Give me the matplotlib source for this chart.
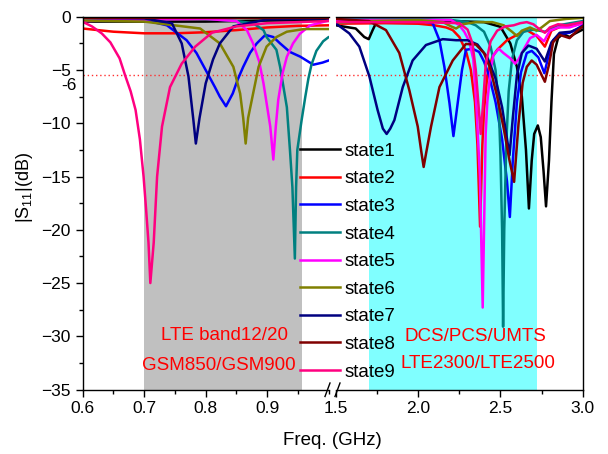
import matplotlib
matplotlib.use('Agg')
import matplotlib.pyplot as plt
from matplotlib.lines import Line2D
from matplotlib.ticker import MultipleLocator
import matplotlib.transforms as mtransforms

plt.rcParams['font.family'] = ['Liberation Sans', 'DejaVu Sans']
plt.rcParams['mathtext.fontset'] = 'custom'
plt.rcParams['mathtext.rm'] = 'Liberation Sans'
plt.rcParams['mathtext.it'] = 'Liberation Sans:italic'

# frequency (GHz) / |S11| (dB), both bands in one list
state1_f = [0.6, 0.7, 0.8, 0.9, 1.0,
            1.5, 1.62, 1.672, 1.699, 1.723, 1.743, 1.8, 2.0, 2.2, 2.4, 2.5, 2.56, 2.6, 2.63, 2.655,
            2.673, 2.69, 2.705, 2.727, 2.745, 2.762, 2.777, 2.795, 2.81, 2.825, 2.85, 2.88, 2.92, 2.95, 3.0]
state1_db = [-0.45, -0.45, -0.45, -0.35, -0.3,
             -0.8, -1.1, -1.9, -2.1, -1.25, -0.6, -0.4, -0.35, -0.4, -0.5, -0.94, -2.5, -4.7, -7.5, -12.5,
             -18.0, -13.5, -11.0, -10.2, -11.3, -14.5, -17.8, -13.5, -8.0, -3.5, -2.0, -1.6, -1.9, -1.6, -1.2]

state2_f = [0.6, 0.65, 0.7, 0.75, 0.8, 0.85, 0.9, 0.95, 1.0,
            1.5, 1.8, 2.0, 2.1, 2.17, 2.21, 2.25, 2.29, 2.32, 2.345, 2.36, 2.376, 2.39, 2.40,
            2.42, 2.45, 2.48, 2.54, 2.6, 2.66, 2.72, 2.77, 2.81, 2.87, 2.95, 3.0]
state2_db = [-1.1, -1.4, -1.55, -1.55, -1.45, -1.25, -1.0, -0.85, -0.8,
             -0.65, -0.6, -0.65, -0.8, -1.0, -1.25, -1.9, -3.2, -5.0, -8.0, -12.0, -19.7, -12.0, -8.75,
             -5.5, -3.8, -3.1, -2.2, -1.7, -1.25, -1.8, -2.8, -1.3, -0.9, -0.8, -0.6]

state3_f = [0.6, 0.7, 0.737, 0.769, 0.785, 0.80, 0.815, 0.823, 0.833, 0.844, 0.852, 0.861, 0.872, 0.883,
            0.897, 0.91, 0.921, 0.937, 0.954, 0.975, 0.99, 1.0,
            1.5, 1.8, 2.0, 2.088, 2.129, 2.159, 2.19, 2.214, 2.24, 2.266, 2.29, 2.33, 2.37, 2.40, 2.43,
            2.47, 2.51, 2.54, 2.557, 2.575, 2.6, 2.625, 2.66, 2.69, 2.73, 2.767, 2.79, 2.82, 2.86,
            2.92, 2.96, 3.0]
state3_db = [-0.1, -0.3, -0.8, -2.2, -3.4, -5.0, -6.6, -7.5, -8.4, -7.2, -5.9, -4.7, -3.4, -2.5,
             -1.7, -1.9, -2.5, -3.3, -3.75, -4.5, -4.3, -4.1,
             -0.3, -0.3, -0.35, -0.6, -2.2, -4.7, -8.1, -11.2, -8.1, -5.0, -3.1, -3.0, -3.3, -4.2, -5.5,
             -8.0, -11.5, -15.5, -18.8, -13.5, -8.0, -5.2, -3.4, -3.2, -3.8, -5.3, -3.8, -2.2, -1.6,
             -1.5, -1.2, -0.8]

state4_f = [0.6, 0.8, 0.85, 0.877, 0.894, 0.899, 0.915, 0.921, 0.932, 0.937, 0.941, 0.945, 0.947,
            0.949, 0.956, 0.962, 0.967, 0.972, 0.98, 0.991, 1.0,
            1.5, 2.0, 2.2, 2.3, 2.35, 2.4, 2.44, 2.47, 2.49, 2.50, 2.51, 2.516, 2.523, 2.535, 2.55,
            2.57, 2.6, 2.64, 2.7, 2.77, 2.85, 3.0]
state4_db = [-0.1, -0.2, -0.4, -0.6, -1.25, -1.9, -3.1, -4.7, -8.5, -12.5, -16.0, -22.7, -16.0,
             -12.5, -9.7, -7.5, -5.8, -4.5, -3.2, -2.3, -1.9,
             -0.2, -0.2, -0.3, -0.5, -0.8, -1.4, -2.8, -5.0, -8.5, -13.0, -20.0, -29.1, -20.0, -12.0, -7.0,
             -4.0, -2.2, -1.4, -1.2, -1.4, -0.8, -0.4]

state5_f = [0.6, 0.7, 0.8, 0.85, 0.867, 0.877, 0.887, 0.894, 0.905, 0.91, 0.914, 0.918, 0.925, 0.932,
            0.942, 0.953, 0.97, 1.0,
            1.5, 2.0, 2.2, 2.25, 2.28, 2.31, 2.335, 2.356, 2.375, 2.392, 2.41, 2.42, 2.44, 2.457,
            2.49, 2.518, 2.56, 2.589, 2.61, 2.64, 2.68, 2.72, 2.765, 2.8, 2.85, 2.92, 3.0]
state5_db = [-0.4, -0.25, -0.2, -0.4, -1.25, -2.5, -4.2, -6.25, -10.3, -13.4, -10.3, -7.8, -5.3, -3.75,
             -2.5, -1.6, -0.8, -0.35,
             -0.3, -0.3, -0.3, -0.8, -1.4, -2.3, -4.0, -9.0, -15.0, -27.3, -11.0, -8.0, -5.0, -3.6,
             -3.0, -3.4, -3.9, -4.4, -4.0, -3.1, -2.0, -1.7, -2.3, -1.3, -1.0, -1.0, -0.6]

state6_f = [0.6, 0.7, 0.791, 0.823, 0.845, 0.856, 0.861, 0.865, 0.869, 0.875, 0.886, 0.899, 0.915,
            0.932, 0.96, 1.0,
            1.5, 1.7, 2.0, 2.15, 2.2, 2.23, 2.27, 2.35, 2.45, 2.52, 2.57, 2.60, 2.63, 2.68, 2.72,
            2.75, 2.8, 2.9, 3.0]
state6_db = [-0.35, -0.45, -1.1, -2.5, -4.7, -7.2, -9.5, -11.9, -9.5, -7.8, -4.7, -2.8, -1.9,
             -1.4, -1.15, -1.15,
             -0.6, -0.4, -0.3, -0.5, -0.9, -1.1, -0.7, -0.5, -0.5, -0.8, -1.4, -1.8, -1.3, -1.0, -1.3,
             -1.0, -0.4, -0.2, -0.1]

state7_f = [0.6, 0.7, 0.745, 0.761, 0.772, 0.780, 0.784, 0.79, 0.80, 0.812, 0.823, 0.845, 0.9, 1.0,
            1.5, 1.581, 1.642, 1.703, 1.753, 1.785, 1.808, 1.83, 1.855, 1.906, 1.966, 2.047, 2.149,
            2.23, 2.3, 2.36, 2.42, 2.47, 2.51, 2.535, 2.555, 2.575, 2.6, 2.63, 2.67, 2.72, 2.77,
            2.81, 2.86, 2.93, 3.0]
state7_db = [-0.1, -0.15, -0.6, -2.5, -5.6, -9.7, -11.9, -9.5, -6.25, -4.0, -2.5, -0.9, -0.25, -0.15,
             -0.63, -1.56, -2.8, -5.6, -8.75, -10.5, -11.0, -10.5, -9.7, -6.6, -4.1, -2.65, -2.1,
             -2.2, -2.2, -2.6, -3.8, -5.8, -8.5, -11.0, -13.0, -9.5, -5.5, -3.4, -2.7, -3.0, -4.2,
             -2.4, -1.5, -1.4, -0.9]

state8_f = [0.6, 1.0,
            1.5, 1.7, 1.804, 1.885, 1.946, 1.997, 2.02, 2.033, 2.048, 2.078, 2.129, 2.21, 2.29, 2.35,
            2.40, 2.437, 2.48, 2.52, 2.555, 2.583, 2.61, 2.635, 2.66, 2.69, 2.72, 2.745, 2.77, 2.795,
            2.82, 2.86, 2.92, 2.96, 3.0]
state8_db = [-0.1, -0.1,
             -0.2, -0.4, -1.25, -3.4, -6.9, -10.3, -12.8, -14.1, -12.8, -10.3, -6.6, -4.1, -2.55, -2.6,
             -3.4, -4.8, -7.5, -10.5, -13.5, -15.5, -10.0, -6.2, -4.7, -4.1, -4.5, -5.3, -6.1, -4.5,
             -2.4, -1.7, -2.0, -1.4, -0.9]

state9_f = [0.6, 0.615, 0.631, 0.645, 0.66, 0.669, 0.678, 0.686, 0.693, 0.699, 0.703, 0.707, 0.710,
            0.7155, 0.721, 0.729, 0.742, 0.761, 0.783, 0.81, 0.85, 0.9, 0.95, 1.0,
            1.5, 2.0, 2.25, 2.3, 2.33, 2.35, 2.365, 2.38, 2.395, 2.41, 2.44, 2.48, 2.53, 2.58, 2.62,
            2.66, 2.7, 2.74, 2.77, 2.8, 2.85, 2.9, 3.0]
state9_db = [-0.47, -0.9, -1.56, -2.4, -3.9, -5.5, -7.0, -8.75, -11.5, -15.0, -18.0, -21.2, -25.0,
             -21.2, -15.0, -10.3, -6.6, -4.4, -2.8, -1.5, -0.9, -0.6, -0.5, -0.4,
             -0.5, -0.5, -0.6, -1.2, -2.5, -5.0, -8.0, -11.0, -8.0, -4.5, -2.3, -1.3, -0.9, -0.8, -0.6,
             -0.5, -0.7, -1.2, -1.5, -1.0, -0.7, -0.8, -0.5]

labels = ['state1', 'state2', 'state3', 'state4', 'state5', 'state6', 'state7', 'state8', 'state9']
colors = ['#000000', '#ff0000', '#0000ff', '#008080', '#ff00ff', '#808000', '#000080', '#800000', '#ff0080']
freqs = [state1_f, state2_f, state3_f, state4_f, state5_f, state6_f, state7_f, state8_f, state9_f]
dbs = [state1_db, state2_db, state3_db, state4_db, state5_db, state6_db, state7_db, state8_db, state9_db]

low_band = (0.7, 0.956)
high_band = (1.7, 2.72)
ref_level = -5.5

fig = plt.figure(figsize=(6.08, 4.54), dpi=100)
ax1 = fig.add_axes([0.136, 0.142, 0.4046, 0.821])
ax2 = fig.add_axes([0.5526, 0.142, 0.4058, 0.821])

ax1.axvspan(*low_band, color='#c0c0c0', lw=0, zorder=0)
ax2.axvspan(*high_band, color='#80ffff', lw=0, zorder=0)

lines = []
for ax in (ax1, ax2):
    for f, d, c, lab in zip(freqs, dbs, colors, labels):
        ln, = ax.plot(f, d, color=c, lw=1.8, label=lab)
        if ax is ax1:
            lines.append(ln)
    ax.axhline(ref_level, color='#ff3030', lw=1.0, ls=(0, (1, 2)), zorder=1)
    ax.set_ylim(-35, 0)
    for s in ax.spines.values():
        s.set_linewidth(1.0)
    ax.tick_params(direction='out', length=5, width=1, labelsize=12.5, top=False, right=False)
    ax.tick_params(which='minor', direction='out', length=3, width=1)

ax1.set_xlim(0.6, 1.0)
ax1.set_xticks([0.6, 0.7, 0.8, 0.9])
ax1.xaxis.set_minor_locator(MultipleLocator(0.05))
ax1.set_yticks([-35, -30, -25, -20, -15, -10, -5, 0])
ax1.yaxis.set_minor_locator(MultipleLocator(2.5))
ax1.spines['right'].set_visible(False)
trans = mtransforms.blended_transform_factory(ax1.transAxes, ax1.transData)
ax1.text(-0.025, -6.45, '-6', transform=trans, ha='right', va='center', fontsize=12.5)

ax2.set_xlim(1.5, 3.0)
ax2.set_xticks([1.5, 2.0, 2.5, 3.0])
ax2.xaxis.set_minor_locator(MultipleLocator(0.25))
ax2.spines['left'].set_visible(False)
ax2.tick_params(axis='y', which='both', left=False, labelleft=False)

ax1.text(0.831, -29.95, 'LTE band12/20', color='red', fontsize=13.5, ha='center', va='center')
ax1.text(0.822, -32.7, 'GSM850/GSM900', color='red', fontsize=13.5, ha='center', va='center')
ax2.text(2.345, -30.0, 'DCS/PCS/UMTS', color='red', fontsize=13.5, ha='center', va='center')
ax2.text(2.364, -32.6, 'LTE2300/LTE2500', color='red', fontsize=13.5, ha='center', va='center')

# axis break marks on the bottom spine
for x0 in (325, 335):
    fig.add_artist(Line2D([x0 / 608, (x0 + 5) / 608], [1 - 396.5 / 454, 1 - 383 / 454],
                          color='black', lw=1.0, transform=fig.transFigure))

fig.legend(lines, labels, loc='upper left', bbox_to_anchor=(0.493, 0.686), frameon=False,
           fontsize=13.5, handlelength=2.13, handletextpad=0.27, labelspacing=0.56,
           borderpad=0, borderaxespad=0)

fig.text(0.546, 0.029, 'Freq. (GHz)', ha='center', va='center', fontsize=13.5)
fig.text(0.041, 0.586, r'|S$_{\mathit{11}}$|(dB)', ha='center', va='center', rotation=90, fontsize=13)

fig.savefig('out.png', dpi=100)
